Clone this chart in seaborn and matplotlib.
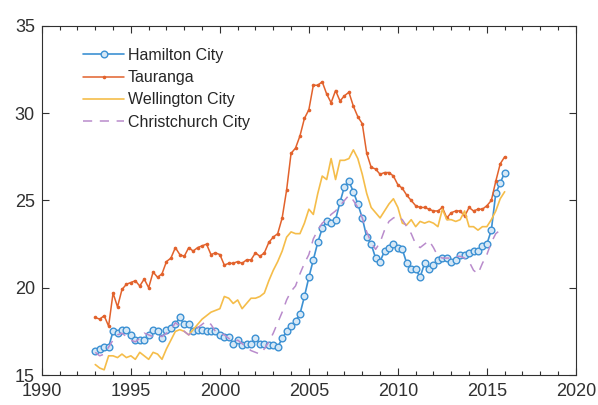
import numpy as np
import pandas as pd
import matplotlib
matplotlib.use("Agg")
import matplotlib.pyplot as plt
import seaborn as sns
from matplotlib.ticker import MultipleLocator

# quarterly series, 1993 Q1 .. 2016 Q1
start_year = 1993
n_quarters = 93

hamilton = [
    16.4, 16.5, 16.6, 16.6, 17.5, 17.4, 17.6, 17.6, 17.3, 17.0,
    17.0, 17.0, 17.3, 17.6, 17.5, 17.1, 17.6, 17.7, 17.9, 18.3,
    17.9, 17.9, 17.5, 17.6, 17.6, 17.5, 17.5, 17.5, 17.3, 17.2,
    17.2, 16.8, 17.0, 16.7, 16.8, 16.8, 17.1, 16.8, 16.8, 16.7,
    16.7, 16.6, 17.1, 17.5, 17.8, 18.1, 18.5, 19.5, 20.6, 21.6,
    22.6, 23.4, 23.8, 23.7, 23.9, 24.9, 25.8, 26.1, 25.5, 24.8,
    24.0, 22.9, 22.5, 21.7, 21.5, 22.1, 22.3, 22.5, 22.3, 22.2,
    21.4, 21.1, 21.1, 20.6, 21.4, 21.1, 21.3, 21.6, 21.7, 21.7,
    21.5, 21.6, 21.9, 21.9, 22.0, 22.1, 22.1, 22.4, 22.5, 23.3,
    25.4, 26.0, 26.6,
]
tauranga = [
    18.3, 18.2, 18.4, 17.8, 19.7, 18.9, 19.9, 20.2, 20.3, 20.4,
    20.1, 20.5, 20.0, 20.9, 20.6, 20.8, 21.5, 21.7, 22.3, 21.9,
    21.8, 22.3, 22.1, 22.3, 22.4, 22.5, 21.9, 22.0, 21.9, 21.3,
    21.4, 21.4, 21.5, 21.4, 21.6, 21.6, 22.0, 21.8, 22.0, 22.6,
    22.9, 23.1, 24.0, 25.6, 27.7, 28.0, 28.7, 29.7, 30.2, 31.6,
    31.6, 31.8, 31.1, 30.6, 31.3, 30.7, 31.0, 31.2, 30.4, 29.8,
    29.4, 27.7, 26.9, 26.8, 26.5, 26.6, 26.6, 26.4, 25.9, 25.7,
    25.3, 25.0, 24.7, 24.6, 24.6, 24.5, 24.4, 24.4, 24.6, 24.0,
    24.3, 24.4, 24.4, 24.1, 24.6, 24.4, 24.5, 24.5, 24.7, 25.0,
    26.1, 27.1, 27.5,
]
wellington = [
    15.6, 15.4, 15.3, 16.1, 16.1, 16.0, 16.2, 16.0, 16.1, 15.9,
    16.3, 16.1, 15.9, 16.3, 16.2, 15.9, 16.5, 17.0, 17.5, 17.6,
    17.5, 17.3, 17.6, 17.9, 18.2, 18.4, 18.6, 18.7, 18.8, 19.5,
    19.4, 19.1, 19.3, 18.8, 19.1, 19.4, 19.4, 19.5, 19.7, 20.4,
    21.0, 21.5, 22.1, 22.9, 23.2, 23.1, 23.1, 23.7, 24.5, 24.2,
    25.4, 26.4, 26.2, 27.4, 26.2, 27.3, 27.3, 27.4, 27.9, 27.4,
    26.5, 25.4, 24.6, 24.3, 24.0, 24.4, 24.8, 25.1, 24.6, 23.7,
    23.6, 23.9, 23.5, 23.8, 23.7, 23.8, 23.7, 23.5, 24.5, 23.9,
    23.9, 23.8, 23.9, 24.4, 23.5, 23.5, 23.3, 23.5, 23.5, 23.9,
    24.4, 25.1, 25.5,
]
christchurch = [
    16.3, 16.1, 16.2, 16.6, 17.0, 17.3, 17.4, 17.2, 17.0, 16.9,
    17.1, 17.4, 17.3, 17.2, 17.3, 17.2, 17.4, 17.6, 18.0, 17.8,
    17.5, 17.3, 17.5, 17.7, 17.9, 18.1, 17.9, 17.5, 17.4, 17.3,
    17.1, 16.9, 17.0, 16.8, 16.6, 16.4, 16.3, 16.2, 16.5, 16.9,
    17.4, 18.0, 18.6, 19.3, 19.8, 20.1, 20.8, 21.4, 21.9, 22.8,
    23.3, 23.7, 23.9, 24.2, 24.4, 24.7, 25.0, 25.3, 25.0, 24.6,
    24.0, 23.2, 22.6, 22.2, 22.6, 23.3, 23.8, 24.0, 24.1, 23.9,
    23.5, 23.1, 22.5, 22.3, 22.5, 22.7, 22.3, 21.8, 21.7, 21.7,
    21.7, 21.8, 21.8, 21.7, 21.5, 21.0, 20.8, 21.4, 21.9, 22.6,
    23.1, 23.3, 23.4,
]

years = start_year + np.arange(n_quarters) * 0.25

df = pd.DataFrame({
    "year": years,
    "Hamilton City": hamilton,
    "Tauranga": tauranga,
    "Wellington City": wellington,
    "Christchurch City": christchurch,
})

sns.set_style("ticks")
plt.rcParams["font.family"] = ["Liberation Sans", "DejaVu Sans"]

fig = plt.figure(figsize=(5.98, 4.05), dpi=100)
ax = fig.add_axes([0.070, 0.074, 0.893, 0.862])

sns.lineplot(data=df, x="year", y="Hamilton City", ax=ax, color="#3d91d3",
             linewidth=1.2, marker="o", markersize=4.8, markerfacecolor="#d6e8f6",
             markeredgecolor="#3d91d3", markeredgewidth=1.0, label="Hamilton City")
sns.lineplot(data=df, x="year", y="Tauranga", ax=ax, color="#e2622c",
             linewidth=1.1, marker="o", markersize=2.6, markeredgewidth=0,
             label="Tauranga")
sns.lineplot(data=df, x="year", y="Wellington City", ax=ax, color="#f5bd4a",
             linewidth=1.2, label="Wellington City")
sns.lineplot(data=df, x="year", y="Christchurch City", ax=ax, color="#b98bcc",
             linewidth=1.1, linestyle=(0, (6, 5)), label="Christchurch City")

ax.set_xlim(1990, 2020)
ax.set_ylim(15, 35)
ax.xaxis.set_major_locator(MultipleLocator(5))
ax.xaxis.set_minor_locator(MultipleLocator(1))
ax.yaxis.set_major_locator(MultipleLocator(5))
ax.set_xlabel("")
ax.set_ylabel("")

ax.tick_params(which="both", direction="in", top=True, right=True,
               colors="#303030", labelsize=13, width=0.8)
ax.tick_params(which="major", length=5)
ax.tick_params(which="minor", length=3)
ax.tick_params(axis="x", which="major", pad=6)
ax.tick_params(axis="y", which="major", pad=5)
for side in ax.spines.values():
    side.set_color("#303030")
    side.set_linewidth(0.8)

leg = ax.legend(loc="upper left", bbox_to_anchor=(0.065, 0.955), frameon=False,
                fontsize=11.5, handlelength=2.6, handletextpad=0.2,
                labelspacing=0.45, borderaxespad=0)

fig.savefig("out.png", dpi=100)
